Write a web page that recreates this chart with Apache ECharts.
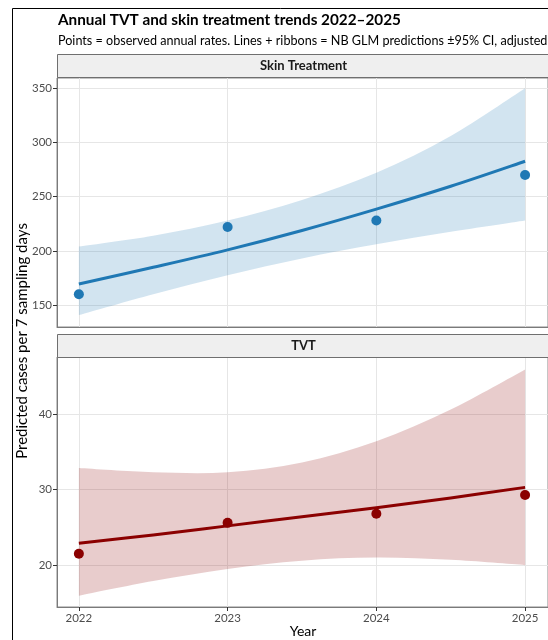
<!DOCTYPE html>
<html>
<head>
<meta charset="utf-8">
<script src="https://cdn.jsdelivr.net/npm/echarts@6/dist/echarts.min.js"></script>
<style>
  html, body { margin: 0; padding: 0; background: #fff; }
  #chart { width: 548px; height: 640px; }
</style>
</head>
<body>
<div id="chart"></div>
<script>
// Prediction grid (years) and observed years
const predYears = [2022, 2022.5, 2023, 2023.5, 2024, 2024.5, 2025];
const obsYears = [2022, 2023, 2024, 2025];
const yearTicks = [2022, 2023, 2024, 2025];

// Skin treatment: observed annual rates, NB GLM fit and 95% CI
const skinObserved = [160, 222, 228, 270];
const skinFit = [169.4, 184.8, 200.9, 218.8, 238.5, 259.6, 282.7];
const skinLower = [140.7, 160, 177.5, 193, 206, 217.5, 228];
const skinUpper = [204, 214, 228, 247, 272, 306, 350];
const skinTicks = [150, 200, 250, 300, 350];

// TVT: observed annual rates, NB GLM fit and 95% CI
const tvtObserved = [21.5, 25.6, 26.8, 29.3];
const tvtFit = [22.9, 24.0, 25.2, 26.4, 27.6, 28.9, 30.3];
const tvtLower = [15.96, 17.9, 19.5, 20.6, 21.0, 20.7, 20.0];
const tvtUpper = [32.85, 32.3, 32.3, 33.6, 36.4, 40.6, 45.9];
const tvtTicks = [20, 30, 40];

const FONT = 'Lato, "Open Sans", sans-serif';
const BLUE = '#1F78B4';
const RED = '#8B0000';

const zip = (xs, ys) => xs.map((x, i) => [x, ys[i]]);

// Smooth SVG path segments (Catmull-Rom as cubic Bezier) through pixel points
function curveSegments(pts) {
  let d = '';
  for (let i = 0; i < pts.length - 1; i++) {
    const p0 = pts[Math.max(i - 1, 0)], p1 = pts[i], p2 = pts[i + 1], p3 = pts[Math.min(i + 2, pts.length - 1)];
    const c1 = [p1[0] + (p2[0] - p0[0]) / 6, p1[1] + (p2[1] - p0[1]) / 6];
    const c2 = [p2[0] - (p3[0] - p1[0]) / 6, p2[1] - (p3[1] - p1[1]) / 6];
    d += ' C' + c1[0] + ' ' + c1[1] + ' ' + c2[0] + ' ' + c2[1] + ' ' + p2[0] + ' ' + p2[1];
  }
  return d;
}

// Confidence ribbon drawn as one closed smooth path in data coordinates
function ribbon(lower, upper, color, idx) {
  return {
    type: 'custom', xAxisIndex: idx, yAxisIndex: idx, silent: true, z: 1,
    data: predYears.map((x, i) => [x, lower[i], upper[i]]),
    renderItem: function (params, api) {
      if (params.dataIndex !== 0) return null;
      const up = predYears.map((x, i) => api.coord([x, upper[i]]));
      const lo = predYears.map((x, i) => api.coord([x, lower[i]])).reverse();
      let d = 'M' + up[0][0] + ' ' + up[0][1] + curveSegments(up);
      d += ' L' + lo[0][0] + ' ' + lo[0][1] + curveSegments(lo) + ' Z';
      return {
        type: 'path',
        shape: { pathData: d },
        style: { fill: color, opacity: 0.2, stroke: null }
      };
    }
  };
}

// Fitted prediction curve
function fitLine(fit, color, idx) {
  return {
    type: 'custom', xAxisIndex: idx, yAxisIndex: idx, silent: true, z: 3,
    data: zip(predYears, fit),
    renderItem: function (params, api) {
      if (params.dataIndex !== 0) return null;
      const pts = predYears.map((x, i) => api.coord([x, fit[i]]));
      const d = 'M' + pts[0][0] + ' ' + pts[0][1] + curveSegments(pts);
      return {
        type: 'path',
        shape: { pathData: d },
        style: { fill: null, stroke: color, lineWidth: 3 }
      };
    }
  };
}

function points(obs, color, idx) {
  return {
    type: 'scatter', xAxisIndex: idx, yAxisIndex: idx, data: zip(obsYears, obs),
    symbolSize: 10, itemStyle: { color: color, opacity: 1 }, z: 4
  };
}

const gridLine = { show: true, lineStyle: { color: '#e6e6e6', width: 1 } };

function xAxis(idx, showLabels) {
  return {
    type: 'value', gridIndex: idx, min: 2021.853, max: 2025.154,
    axisLine: { show: true, onZero: false, lineStyle: { color: '#7a7a7a', width: 1 } },
    axisTick: { show: showLabels, length: 4, customValues: yearTicks, lineStyle: { color: '#333' } },
    axisLabel: {
      show: showLabels, customValues: yearTicks, margin: 5,
      color: '#4d4d4d', fontSize: 11.5, fontFamily: FONT, formatter: v => String(v)
    },
    splitLine: gridLine
  };
}

function yAxis(idx, min, max, ticks) {
  return {
    type: 'value', gridIndex: idx, min: min, max: max,
    axisLine: { show: true, onZero: false, lineStyle: { color: '#7a7a7a', width: 1 } },
    axisTick: { show: true, length: 4, customValues: ticks, lineStyle: { color: '#333' } },
    axisLabel: {
      customValues: ticks, margin: 5, color: '#4d4d4d', fontSize: 11.5, fontFamily: FONT
    },
    splitLine: gridLine
  };
}

const PANEL_LEFT = 57, PANEL_W = 493;

function strip(label, top) {
  return [
    {
      type: 'rect', left: PANEL_LEFT, top: top,
      shape: { width: PANEL_W, height: 23 },
      style: { fill: '#efefef', stroke: '#6f6f6f', lineWidth: 1 }, z: 10
    },
    {
      type: 'text', x: PANEL_LEFT + PANEL_W / 2, y: top + 12,
      style: {
        text: label, fill: '#1a1a1a', font: 'bold 13px ' + FONT,
        align: 'center', verticalAlign: 'middle'
      }, z: 11
    }
  ];
}

const chart = echarts.init(document.getElementById('chart'), null, { renderer: 'canvas' });
chart.setOption({
  animation: false,
  backgroundColor: '#fff',
  title: [
    {
      text: 'Annual TVT and skin treatment trends 2022\u20132025', left: 53, top: 8,
      textStyle: { fontSize: 15.3, fontWeight: 'bold', color: '#000', fontFamily: FONT }
    },
    {
      text: 'Points = observed annual rates. Lines + ribbons = NB GLM predictions \u00b195% CI, adjusted',
      left: 53, top: 29,
      textStyle: { fontSize: 12.6, fontWeight: 'normal', color: '#000', fontFamily: FONT }
    }
  ],
  grid: [
    { left: PANEL_LEFT, top: 78, width: PANEL_W, height: 249, show: true, borderColor: '#8a8a8a', borderWidth: 1 },
    { left: PANEL_LEFT, top: 357, width: PANEL_W, height: 250, show: true, borderColor: '#8a8a8a', borderWidth: 1 }
  ],
  xAxis: [xAxis(0, false), xAxis(1, true)],
  yAxis: [yAxis(0, 129.7, 359.5, skinTicks), yAxis(1, 14.46, 47.56, tvtTicks)],
  series: [
    ribbon(skinLower, skinUpper, BLUE, 0),
    fitLine(skinFit, BLUE, 0),
    points(skinObserved, BLUE, 0),
    ribbon(tvtLower, tvtUpper, RED, 1),
    fitLine(tvtFit, RED, 1),
    points(tvtObserved, RED, 1)
  ],
  graphic: [
    // outer frame
    { type: 'line', shape: { x1: 12.5, y1: 8.5, x2: 12.5, y2: 640 }, style: { stroke: '#000', lineWidth: 1 } },
    { type: 'line', shape: { x1: 12.5, y1: 8.5, x2: 548, y2: 8.5 }, style: { stroke: '#000', lineWidth: 1 } },
    ...strip('Skin Treatment', 54),
    ...strip('TVT', 334),
    {
      type: 'text', x: 22, y: 341, rotation: Math.PI / 2,
      style: {
        text: 'Predicted cases per 7 sampling days', fill: '#000', font: '15px ' + FONT,
        align: 'center', verticalAlign: 'middle'
      }
    },
    {
      type: 'text', x: 303, y: 631,
      style: { text: 'Year', fill: '#000', font: '14px ' + FONT, align: 'center', verticalAlign: 'middle' }
    }
  ]
});
</script>
</body>
</html>
